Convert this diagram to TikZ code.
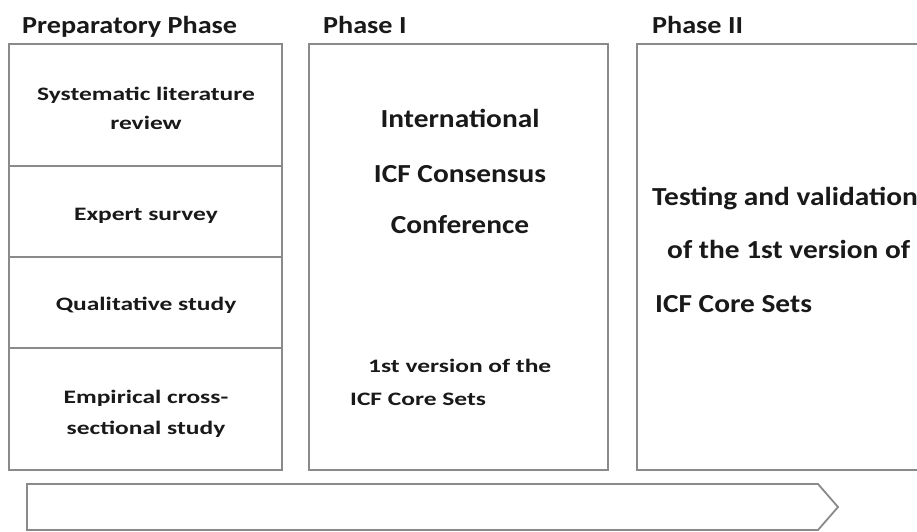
\documentclass[tikz,border=0pt]{standalone}
\usepackage{fontspec}
\setmainfont{Carlito}
\newfontfamily\widefont{Carlito}[FakeStretch=1.34]
\newfontfamily\midfont{Carlito}[FakeStretch=1.13]
\newfontfamily\ttlfont{Carlito}[FakeStretch=1.15]
\definecolor{framegray}{RGB}{138,138,138}
\definecolor{txt}{RGB}{25,25,25}
\begin{document}
\begin{tikzpicture}[x=1pt,y=-1pt,
  frame/.style={draw=framegray,line width=2.6pt},
  ttl/.style={font=\ttlfont\bfseries\fontsize{24.5}{28}\selectfont,inner sep=0pt,anchor=base west,text=txt},
  lbl/.style={font=\widefont\bfseries\fontsize{19}{22}\selectfont,inner sep=0pt,anchor=base,text=txt},
  big/.style={font=\midfont\bfseries\fontsize{26}{30}\selectfont,inner sep=0pt,anchor=base,text=txt},
  bigw/.style={font=\midfont\bfseries\fontsize{26}{30}\selectfont,inner sep=0pt,anchor=base west,text=txt},
  sm/.style={font=\widefont\bfseries\fontsize{19}{22}\selectfont,inner sep=0pt,anchor=base west,text=txt}]
\useasboundingbox (0,0) rectangle (917,532);
\fill[white] (0,0) rectangle (917,532);
% titles
\node[ttl] (t0) at (22,34) {Preparatory Phase};
\node[ttl] (t1) at (323,34) {Phase I};
\node[ttl] (t2) at (652,34) {Phase II};
% preparatory box
\draw[frame] (9,44) rectangle (282,470);
\draw[frame] (9,166) -- (282,166);
\draw[frame] (9,257) -- (282,257);
\draw[frame] (9,348) -- (282,348);
\node[lbl] (p1a) at (146,100) {Systematic literature};
\node[lbl] (p1b) at (146,129) {review};
\node[lbl] (p2) at (146,220) {Expert survey};
\node[lbl] (p3) at (146,310) {Qualitative study};
\node[lbl] (p4a) at (146,403) {Empirical cross-};
\node[lbl] (p4b) at (146,434) {sectional study};
% phase I
\draw[frame] (309,44) rectangle (608,470);
\node[big] (c1) at (460,127) {International};
\node[big] (c2) at (460,182) {ICF Consensus};
\node[big] (c3) at (460,233) {Conference};
\node[sm] (v1) at (368,372) {1st version of the};
\node[sm] (v2) at (350,405) {ICF Core Sets};
% phase II
\draw[frame] (940,44) -- (637,44) -- (637,470) -- (940,470);
\node[bigw] (d1) at (652,205) {Testing and validation};
\node[bigw] (d2) at (667,258) {of the 1st version of};
\node[bigw] (d3) at (655,312) {ICF Core Sets};
% arrow
\draw[draw=framegray,line width=1.8pt,line join=miter] (27,484) -- (818,484) -- (838,507) -- (818,530) -- (27,530) -- cycle;
\end{tikzpicture}
\end{document}
